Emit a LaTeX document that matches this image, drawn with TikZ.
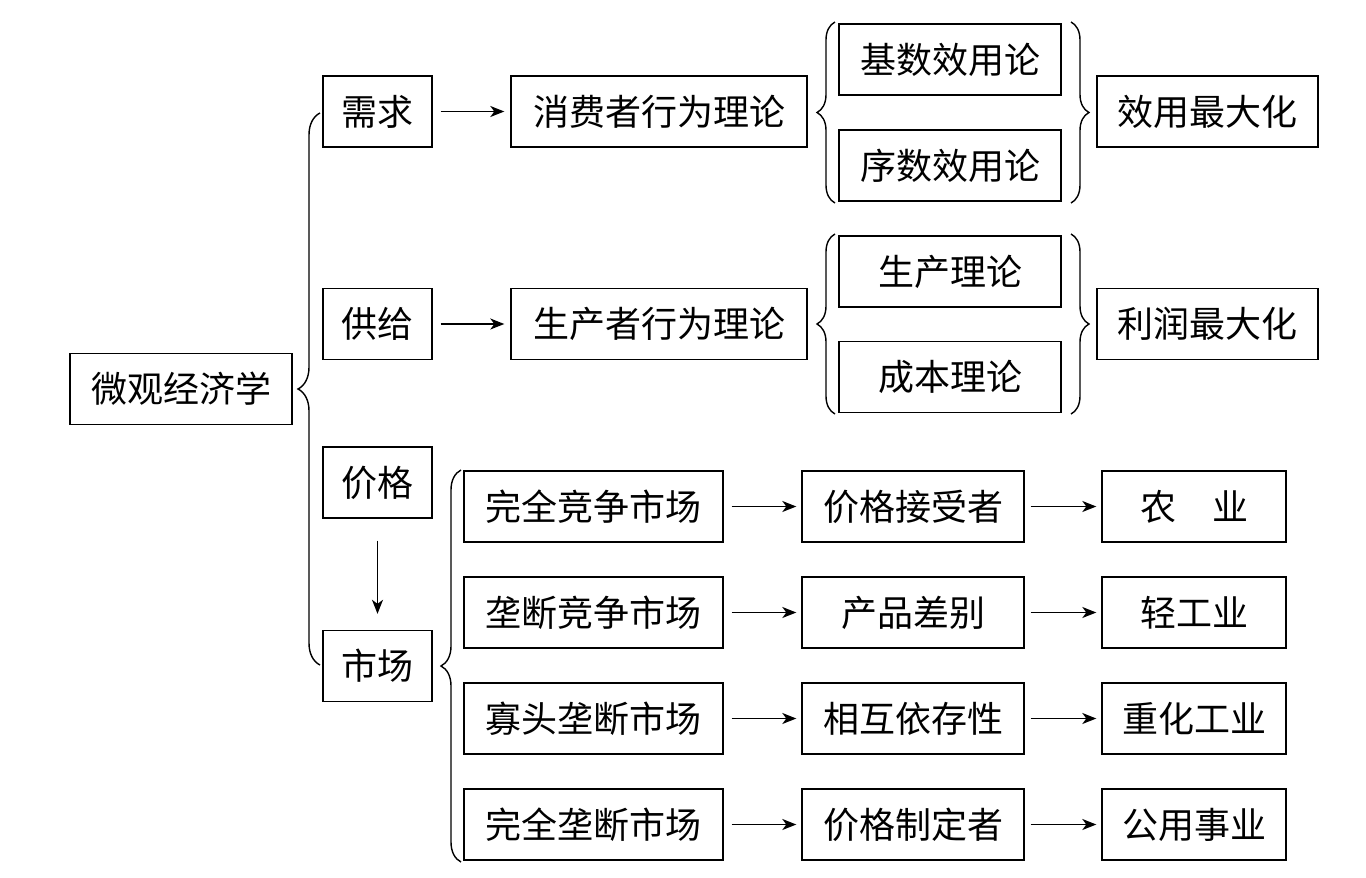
\documentclass[tikz,border=0pt]{standalone}
\usepackage{fontspec}
\newfontfamily\cjk{Noto Sans CJK SC}
\usetikzlibrary{arrows.meta,decorations.pathreplacing}
\begin{document}
\begin{tikzpicture}[x=1pt,y=-1pt,
  box/.style={draw,line width=1.4pt,inner sep=0pt,minimum height=71pt,align=center,
    font=\cjk\fontsize{36}{40}\selectfont},
  arr/.style={-{Stealth[length=14pt,width=11pt,inset=4pt]},line width=1.5pt},
  brc/.style={decorate,decoration={brace,amplitude=#1},line width=1.4pt}]
\useasboundingbox[fill=white] (0,0) rectangle (1366,878);
\node[box,minimum width=222pt] (wg) at (181,389) {微观经济学};
\node[box,minimum width=109pt] (xq) at (377.5,111.5) {需求};
\node[box,minimum width=109pt] (gj) at (377.5,324) {供给};
\node[box,minimum width=109pt] (jg) at (377.5,482.5) {价格};
\node[box,minimum width=109pt] (sc) at (377.5,666) {市场};
\node[box,minimum width=296pt] (xf) at (659,111.5) {消费者行为理论};
\node[box,minimum width=296pt] (sf) at (659,324) {生产者行为理论};
\node[box,minimum width=222pt] (js) at (950,59.5) {基数效用论};
\node[box,minimum width=222pt] (xs) at (950,165.5) {序数效用论};
\node[box,minimum width=221pt] (xy) at (1207.5,111.5) {效用最大化};
\node[box,minimum width=222pt] (sclt) at (950,271.5) {生产理论};
\node[box,minimum width=222pt] (cb) at (950,377) {成本理论};
\node[box,minimum width=221pt] (lr) at (1207.5,324) {利润最大化};
% market rows
\node[box,minimum width=259pt] (m1) at (593.5,506.5) {完全竞争市场};
\node[box,minimum width=259pt] (m2) at (593.5,612.5) {垄断竞争市场};
\node[box,minimum width=259pt] (m3) at (593.5,718.5) {寡头垄断市场};
\node[box,minimum width=259pt] (m4) at (593.5,824.5) {完全垄断市场};
\node[box,minimum width=222pt] (c1) at (913,506.5) {价格接受者};
\node[box,minimum width=222pt] (c2) at (913,612.5) {产品差别};
\node[box,minimum width=222pt] (c3) at (913,718.5) {相互依存性};
\node[box,minimum width=222pt] (c4) at (913,824.5) {价格制定者};
\node[box,minimum width=184pt] (r1) at (1194,506.5) {农\hspace{1em}业};
\node[box,minimum width=184pt] (r2) at (1194,612.5) {轻工业};
\node[box,minimum width=184pt] (r3) at (1194,718.5) {重化工业};
\node[box,minimum width=184pt] (r4) at (1194,824.5) {公用事业};
% braces
\coordinate (b1s) at (320,665); \coordinate (b1e) at (320,113);
\draw[brc=22pt] (b1s) -- (b1e);
\coordinate (b2s) at (835,203); \coordinate (b2e) at (835,22);
\draw[brc=18pt] (b2s) -- (b2e);
\coordinate (b3s) at (1071,22); \coordinate (b3e) at (1071,203);
\draw[brc=18pt] (b3s) -- (b3e);
\coordinate (b4s) at (835,414); \coordinate (b4e) at (835,234);
\draw[brc=18pt] (b4s) -- (b4e);
\coordinate (b5s) at (1071,234); \coordinate (b5e) at (1071,414);
\draw[brc=18pt] (b5s) -- (b5e);
\coordinate (b6s) at (461,862); \coordinate (b6e) at (461,470);
\draw[brc=20pt] (b6s) -- (b6e);
% arrows
\draw[arr,shorten <=8pt,shorten >=6pt] (xq) -- (xf);
\draw[arr,shorten <=8pt,shorten >=6pt] (gj) -- (sf);
\draw[arr,shorten <=22pt,shorten >=16pt] (jg) -- (sc);
\foreach \i in {1,2,3,4}{
  \draw[arr,shorten <=8pt,shorten >=5pt] (m\i) -- (c\i);
  \draw[arr,shorten <=6pt,shorten >=5pt] (c\i) -- (r\i);
}
\end{tikzpicture}
\end{document}
